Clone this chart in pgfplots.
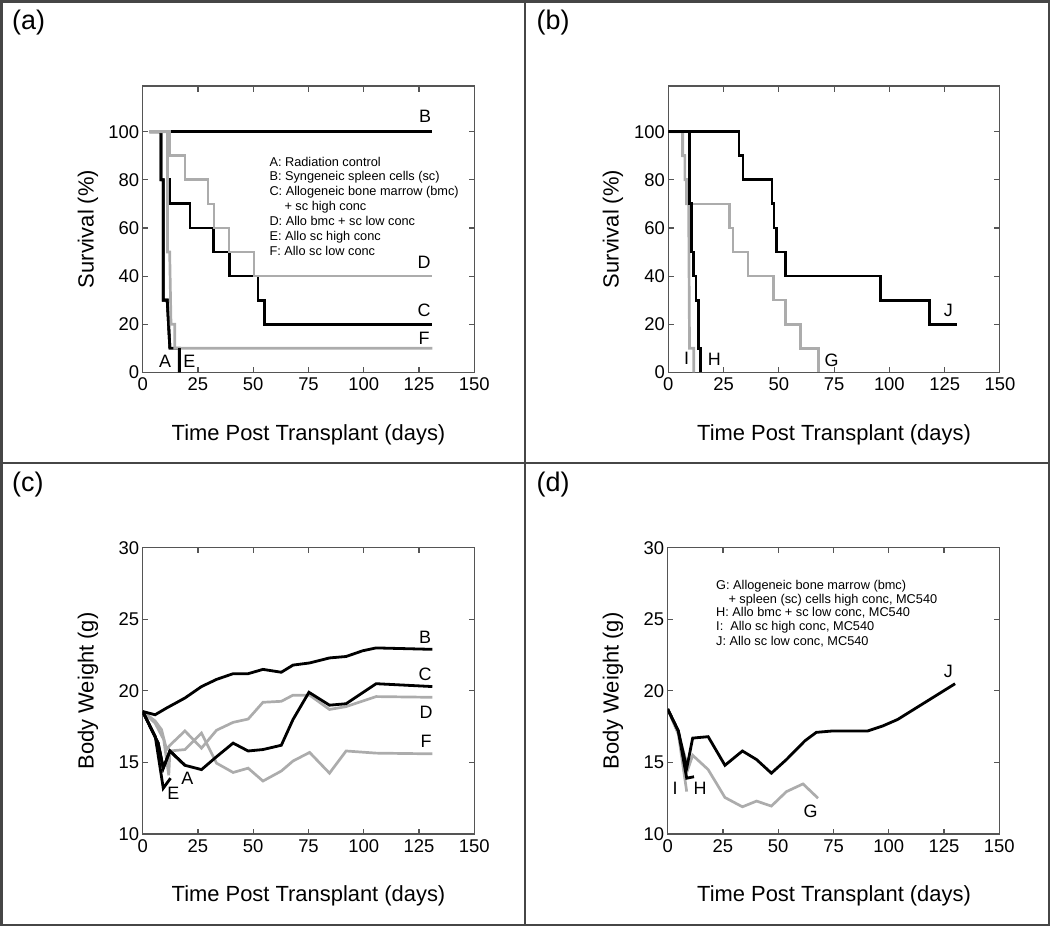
\documentclass[border=0pt]{standalone}
\usepackage{pgfplots}
\pgfplotsset{compat=1.18}
\usepackage{fontspec}
\setmainfont{Liberation Sans}
\definecolor{lg}{RGB}{172,172,172}
\definecolor{axc}{RGB}{85,85,85}
\definecolor{frc}{RGB}{70,70,70}
\pgfplotsset{
  base/.style={
    scale only axis, width=331.6bp, height=286.3bp,
    xmin=0, xmax=150, xtick={0,25,...,150},
    tick align=inside, major tick length=5.5bp,
    xtick pos=both, ytick pos=both,
    axis line style={axc, line width=1.1bp},
    every tick/.style={axc, line width=1.1bp},
    ticklabel style={font=\fontsize{18.5}{21}\selectfont, text=black},
    xticklabel style={yshift=-2bp},
    yticklabel style={xshift=0bp},
    /pgf/number format/assume math mode=true,
    anchor=south west,
  },
  surv/.style={base, ymin=0, ymax=119, ytick={0,20,...,100}},
  wt/.style={base, ymin=10, ymax=30, ytick={10,15,...,30}},
  bl/.style={black, line width=2.8bp, line join=miter, no markers},
  gr/.style={lg, line width=2.7bp, line join=miter, no markers},
}
\begin{document}
\begin{tikzpicture}
\path[use as bounding box] (0,0) rectangle (1050bp,-926bp);
% ---------------- (a)
\begin{axis}[surv, at={(142.7bp,-372.3bp)}]
\addplot[bl] coordinates {(3,100)(8.3,100)(8.3,80)(9.3,80)(9.3,30)(11.1,30)(12.3,10)(16.5,10)(16.5,0)};
\addplot[bl] coordinates {(3,100)(8.3,100)(8.3,80)(9.3,80)(9.3,30)(11.1,30)(12.3,10)};
\addplot[bl] coordinates {(3,100)(131,100)};
\addplot[bl] coordinates {(3,100)(11.2,100)(11.2,80)(12.3,80)(12.3,70)(21.4,70)(21.4,60)(32.2,60)(32.2,50)(39.1,50)(39.1,40)(52.2,40)(52.2,30)(55.2,30)(55.2,20)(131,20)};
\addplot[gr] coordinates {(3,100)(12,100)(12,90)(19.1,90)(19.1,80)(29.6,80)(29.6,70)(32.2,70)(32.2,60)(39.1,60)(39.1,50)(50.4,50)(50.4,40)(131,40)};
\addplot[gr] coordinates {(3,100)(11.2,100)(11.2,50)(12.2,50)(12.8,20)(14.5,20)(14.5,10)(131,10)};
\addplot[bl] coordinates {(16.5,10)(16.5,0)};
\end{axis}
% ---------------- (b)
\begin{axis}[surv, at={(668.3bp,-372.3bp)}]
\addplot[gr] coordinates {(0,100)(6.5,100)(6.5,90)(7.5,90)(7.5,80)(8.3,80)(8.3,70)(27.8,70)(27.8,60)(29.3,60)(29.3,50)(36.1,50)(36.1,40)(47.7,40)(47.7,30)(52.9,30)(52.9,20)(59.8,20)(59.8,10)(68,10)(68,0)};
\addplot[gr] coordinates {(0,100)(6.5,100)(6.5,90)(7.5,90)(7.5,80)(8.3,80)(8.3,70)(9.2,70)(9.6,10)(11.5,10)(11.5,0)};
\addplot[bl] coordinates {(0,100)(9.5,100)(9.5,70)(10.5,70)(10.5,50)(11.3,50)(11.3,40)(12.5,40)(12.5,30)(13.5,30)(13.5,10)(14.6,10)(14.6,0)};
\addplot[bl] coordinates {(0,100)(32,100)(32,90)(33.8,90)(33.8,80)(46.9,80)(46.9,70)(47.8,70)(47.8,60)(48.9,60)(48.9,50)(52.9,50)(52.9,40)(95.9,40)(95.9,30)(118,30)(118,20)(130.5,20)};
\end{axis}
% ---------------- (c)
\begin{axis}[wt, at={(142.7bp,-834bp)}]
\addplot[gr] coordinates {(0,18.56)(5.6,17.9)(8.5,17.3)(10.8,15.9)(12.3,16.2)(19.1,17.2)(26.6,16.0)(33.4,17.25)(40.9,17.8)(47.7,18.03)(54.4,19.2)(62.7,19.27)(68,19.7)(75.5,19.7)(84.5,18.7)(92,18.9)(105.6,19.6)(131,19.55)};
\addplot[gr] coordinates {(0,18.56)(5.6,17.75)(9.5,16.6)(11.8,14.1)(12.3,15.8)(19.1,15.9)(26.6,17.05)(33.4,14.95)(40.9,14.3)(47.7,14.6)(54.4,13.7)(62.7,14.4)(68,15.1)(75.5,15.7)(84.5,14.25)(92,15.8)(105.6,15.65)(131,15.6)};
\addplot[bl] coordinates {(0,18.56)(5.6,18.33)(10.8,18.8)(19.1,19.5)(26.6,20.3)(33.4,20.8)(40.9,21.2)(47.7,21.2)(54.4,21.5)(62.7,21.3)(68,21.8)(75.5,21.95)(84.5,22.3)(92,22.4)(99.5,22.8)(105.6,23.0)(131,22.9)};
\addplot[bl] coordinates {(0,18.56)(7,16.35)(9.3,14.6)(12.3,15.8)(19.1,14.8)(26.6,14.5)(33.4,15.4)(40.9,16.35)(47.7,15.8)(54.4,15.9)(62.7,16.2)(68,18.0)(75.2,19.9)(84.5,19.0)(92,19.1)(105.6,20.5)(131,20.3)};
\addplot[bl] coordinates {(0,18.56)(7,16.35)(9.3,14.6)(12.3,15.8)(19.1,14.8)};
\addplot[bl] coordinates {(0,18.56)(5.7,16.8)(9.3,13.2)(12.6,13.9)};
\end{axis}
% ---------------- (d)
\begin{axis}[wt, at={(667.7bp,-834bp)}]
\addplot[gr] coordinates {(0,18.73)(4.8,17.0)(9.3,14.6)(11.3,15.5)(18.3,14.5)(25.9,12.55)(33.8,11.9)(40.2,12.3)(46.9,11.95)(53.7,12.96)(61.2,13.5)(68,12.5)};
\addplot[gr] coordinates {(0,18.73)(4.8,17.0)(8.6,12.96)};
\addplot[bl] coordinates {(0,18.73)(4.8,17.2)(8.6,13.9)(11.9,14.0)};
\addplot[bl] coordinates {(0,18.73)(4.8,17.2)(8.6,14.6)(11.3,16.7)(18.3,16.8)(25.9,14.8)(33.8,15.8)(40.2,15.2)(46.9,14.25)(53.7,15.2)(58.2,15.9)(62,16.5)(67.2,17.1)(74.7,17.2)(90.5,17.2)(97.3,17.55)(104,18.0)(130,20.5)};
\end{axis}
% ---------------- frames
\draw[frc, line width=2bp] (1.5bp,-1.5bp) rectangle (1048.5bp,-924.5bp);
\draw[frc, line width=2bp] (524.5bp,-1.5bp) -- (524.5bp,-924.5bp);
\draw[frc, line width=2bp] (1.5bp,-462.7bp) -- (1048.5bp,-462.7bp);
% ---------------- panel letters
\begin{scope}[every node/.style={inner sep=0pt, anchor=base west, font=\fontsize{27}{30}\selectfont}]
\node at (12bp,-29.8bp) {(a)};
\node at (536.5bp,-29.8bp) {(b)};
\node at (12bp,-491bp) {(c)};
\node at (536.5bp,-491bp) {(d)};
\end{scope}
% ---------------- axis titles
\begin{scope}[every node/.style={inner sep=0pt, font=\fontsize{22}{26}\selectfont}]
\node[anchor=base] at (308.5bp,-440bp) {Time Post Transplant (days)};
\node[anchor=base] at (834bp,-440bp) {Time Post Transplant (days)};
\node[anchor=base] at (308.5bp,-901.7bp) {Time Post Transplant (days)};
\node[anchor=base] at (834bp,-901.7bp) {Time Post Transplant (days)};
\node[rotate=90] at (88bp,-229bp) {Survival (\%)};
\node[rotate=90] at (613bp,-229bp) {Survival (\%)};
\node[rotate=90] at (88bp,-691bp) {Body Weight (g)};
\node[rotate=90] at (613bp,-691bp) {Body Weight (g)};
\end{scope}
% ---------------- curve labels
\begin{scope}[every node/.style={inner sep=0pt, font=\fontsize{18}{20}\selectfont}]
\node at (425bp,-116.7bp) {B};
\node at (424bp,-262.3bp) {D};
\node at (424bp,-310bp) {C};
\node at (424bp,-338.3bp) {F};
\node at (165bp,-361.7bp) {A};
\node at (189.3bp,-361.7bp) {E};
\node at (686.7bp,-358.3bp) {I};
\node at (714.3bp,-359.3bp) {H};
\node at (831.7bp,-360bp) {G};
\node at (948.3bp,-310bp) {J};
\node at (425bp,-637.7bp) {B};
\node at (425bp,-674bp) {C};
\node at (426bp,-712.7bp) {D};
\node at (426bp,-741.7bp) {F};
\node at (187.3bp,-778.3bp) {A};
\node at (173.3bp,-793.3bp) {E};
\node at (675bp,-788.3bp) {I};
\node at (700bp,-788.3bp) {H};
\node at (810.7bp,-811.7bp) {G};
\node at (948.3bp,-671.7bp) {J};
\end{scope}
% ---------------- legends
\begin{scope}[every node/.style={inner sep=0pt, anchor=base west, font=\fontsize{12.8}{15}\selectfont}]
\node at (269.3bp,-166bp) {A: Radiation control};
\node at (269.3bp,-180.9bp) {B: Syngeneic spleen cells (sc)};
\node at (269.3bp,-195.8bp) {C: Allogeneic bone marrow (bmc)};
\node at (284.3bp,-210.7bp) {+ sc high conc};
\node at (269.3bp,-225.6bp) {D: Allo bmc + sc low conc};
\node at (269.3bp,-240.5bp) {E: Allo sc high conc};
\node at (269.3bp,-255.4bp) {F: Allo sc low conc};
\node at (716bp,-589.5bp) {G: Allogeneic bone marrow (bmc)};
\node at (728.3bp,-603bp) {+ spleen (sc) cells high conc, MC540};
\node at (716bp,-616.2bp) {H: Allo bmc + sc low conc, MC540};
\node at (716bp,-630.9bp) {I:\ \ Allo sc high conc, MC540};
\node at (716bp,-645.6bp) {J: Allo sc low conc, MC540};
\end{scope}
\end{tikzpicture}
\end{document}
